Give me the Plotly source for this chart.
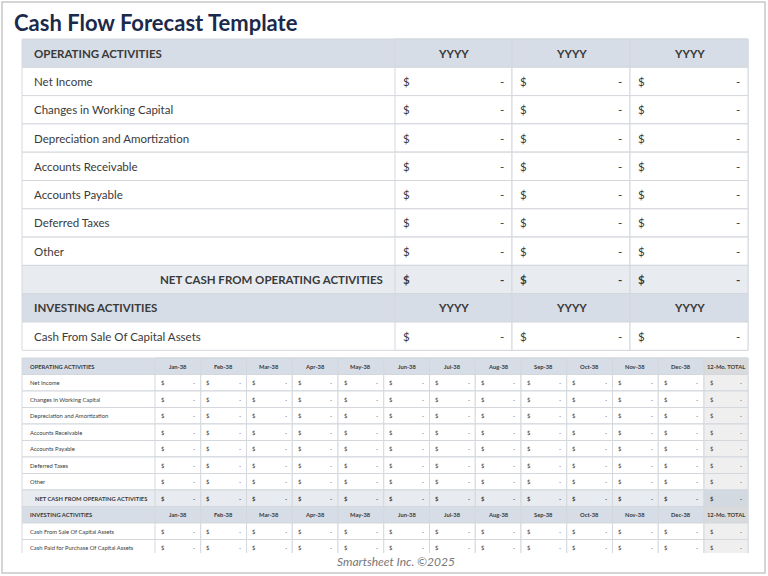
import plotly.graph_objects as go

title = "Cash Flow Forecast Template"
years = ["YYYY", "YYYY", "YYYY"]
op_items = ["Net Income", "Changes in Working Capital", "Depreciation and Amortization",
            "Accounts Receivable", "Accounts Payable", "Deferred Taxes", "Other"]
inv_items_top = ["Cash From Sale Of Capital Assets"]
inv_items_bottom = ["Cash From Sale Of Capital Assets", "Cash Paid for Purchase Of Capital Assets"]
months = ["Jan-38", "Feb-38", "Mar-38", "Apr-38", "May-38", "Jun-38",
          "Jul-38", "Aug-38", "Sep-38", "Oct-38", "Nov-38", "Dec-38"]
total_label = "12-Mo. TOTAL"
footer = "Smartsheet Inc. ©2025"

HEAD = "#d7dde6"
NET = "#e8ecf1"
LINE = "#d4d8dd"
TXT = "#3a3a3a"
FONT = "Lato"

shapes, annos = [], []


def rect(x0, y0, x1, y1, fill=None, line=LINE, w=1):
    shapes.append(dict(type="rect", x0=x0, y0=y0, x1=x1, y1=y1, xref="x", yref="y",
                       fillcolor=fill or "rgba(0,0,0,0)", line=dict(color=line, width=w),
                       layer="below"))


def text(x, y, s, size, anchor="left", bold=False, color=TXT):
    annos.append(dict(x=x, y=y, xref="x", yref="y", text=f"<b>{s}</b>" if bold else s,
                      showarrow=False, xanchor=anchor, yanchor="middle",
                      font=dict(size=size, color=color, family=FONT)))


def table(x0, edges, top, rh, size, sections, total=None, pad=8):
    y = top
    for kind, label, heads in sections:
        fill = HEAD if kind == "head" else NET if kind == "net" else "white"
        rect(x0, y, edges[-1], y + rh, fill)
        if kind == "head":
            text(x0 + pad, y + rh / 2, label, size, bold=True)
        elif kind == "net":
            text(edges[0] - pad, y + rh / 2, label, size, anchor="right", bold=True)
        else:
            text(x0 + pad, y + rh / 2, label, size)
        for i in range(len(edges) - 1):
            a, b = edges[i], edges[i + 1]
            is_tot = total is not None and i == len(edges) - 2
            if is_tot:
                f = "#d9dadb" if kind == "head" else "#d3d9e1" if kind == "net" else "#efefef"
                rect(a, y, b, y + rh, f)
            else:
                rect(a, y, b, y + rh, fill)
            if kind == "head":
                text((a + b) / 2, y + rh / 2, heads[i], size, anchor="center", bold=True)
            else:
                text(a + pad * 0.6, y + rh / 2, "$", size, bold=(kind == "net"))
                text(b - pad * 0.6, y + rh / 2, "-", size, anchor="right", bold=(kind == "net"))
        y += rh


# top table
top_edges = [395, 512, 630, 748]
top_sections = [("head", "OPERATING ACTIVITIES", years)]
top_sections += [("row", s, None) for s in op_items]
top_sections += [("net", "NET CASH FROM OPERATING ACTIVITIES", None),
                 ("head", "INVESTING ACTIVITIES", years)]
top_sections += [("row", s, None) for s in inv_items_top]
table(22, top_edges, 39, 28.3, 11.5, top_sections, pad=10)

# bottom table
col_w = (704 - 155) / len(months)
bot_edges = [155 + i * col_w for i in range(len(months))] + [704, 748]
heads = months + [total_label]
bot_sections = [("head", "OPERATING ACTIVITIES", heads)]
bot_sections += [("row", s, None) for s in op_items]
bot_sections += [("net", "NET CASH FROM OPERATING ACTIVITIES", None),
                 ("head", "INVESTING ACTIVITIES", heads)]
bot_sections += [("row", s, None) for s in inv_items_bottom]
table(22, bot_edges, 358, 16.5, 5.8, bot_sections, total=True, pad=6)

# white cover at bottom to clip table, footer and frame
shapes.append(dict(type="rect", x0=4, y0=553, x1=764, y1=572, xref="x", yref="y",
                   fillcolor="white", line=dict(width=0), layer="below"))
shapes.append(dict(type="rect", x0=2, y0=2, x1=765, y1=573, xref="x", yref="y",
                   line=dict(color="#c8c8c8", width=1.5)))
text(12, 22, title, 22, bold=True, color="#1b2a4a")
text(396, 561, f"<i>{footer}</i>", 12, anchor="center", color="#777777")

fig = go.Figure()
fig.add_trace(go.Scatter(x=[0, 768], y=[0, 576], mode="markers", marker=dict(opacity=0),
                         hoverinfo="skip", showlegend=False))
fig.update_layout(width=768, height=576, margin=dict(l=0, r=0, t=0, b=0),
                  plot_bgcolor="white", paper_bgcolor="white",
                  shapes=shapes, annotations=annos)
fig.update_xaxes(range=[0, 768], visible=False)
fig.update_yaxes(range=[576, 0], visible=False)
fig.write_html("out.html", config={"displayModeBar": False},
               post_script="document.body.style.margin='0';")
